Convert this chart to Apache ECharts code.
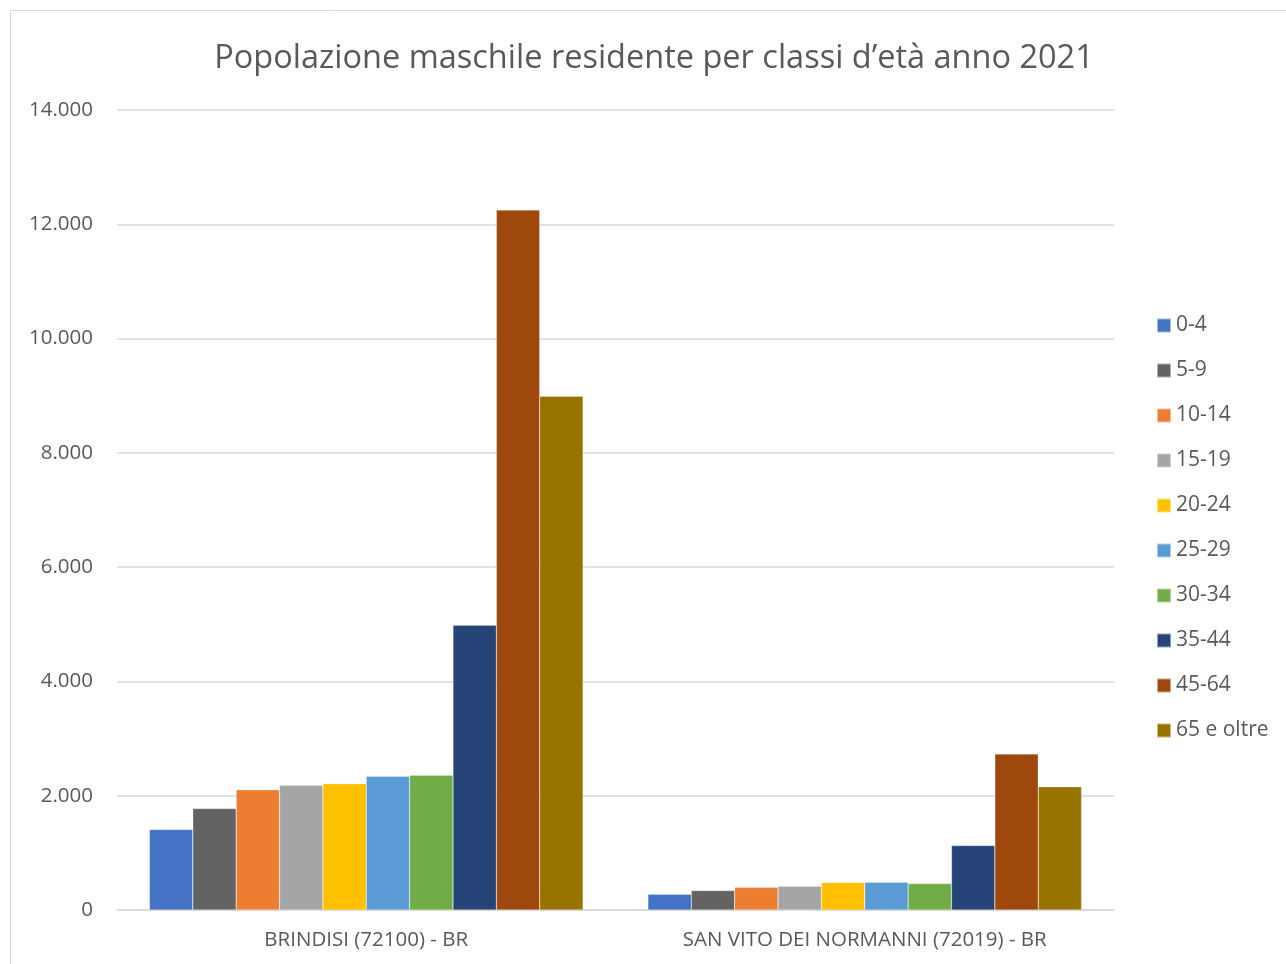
<!DOCTYPE html>
<html><head><meta charset="utf-8">
<script src="https://cdn.jsdelivr.net/npm/echarts@6/dist/echarts.min.js"></script>
<style>html,body{margin:0;padding:0;background:#fff}#c{width:1286px;height:964px}</style>
</head><body><div id="c"></div>
<script>
const categories = ['BRINDISI (72100) - BR', 'SAN VITO DEI NORMANNI (72019) - BR'];
const ageClasses = ['0-4','5-9','10-14','15-19','20-24','25-29','30-34','35-44','45-64','65 e oltre'];
const brindisi = [1410, 1775, 2105, 2185, 2210, 2340, 2360, 4985, 12250, 8990];
const sanVito = [275, 340, 397, 414, 480, 485, 462, 1128, 2730, 2158];
const colors = ['#4472C4','#636363','#ED7D31','#A5A5A5','#FFC000','#5B9BD5','#70AD47','#264478','#9E480E','#997300'];
const yTicks = { min: 0, max: 14000, interval: 2000 };

const font = 'Open Sans, sans-serif';
const chart = echarts.init(document.getElementById('c'));
const series = ageClasses.map((name, i) => ({
  name, type: 'bar', data: [brindisi[i], sanVito[i]],
  barGap: '0%', barCategoryGap: '13%',
  itemStyle: { color: colors[i], borderColor: 'rgba(255,255,255,0.5)', borderWidth: 0.5 }
}));
chart.setOption({
  animation: false,
  graphic: [{ type: 'rect', shape: { x: 10.5, y: 10.5, width: 1290, height: 1000 }, style: { fill: 'none', stroke: '#d9d9d9', lineWidth: 1 } }],
  title: { text: 'Popolazione maschile residente per classi d\u2019età anno 2021', left: 649, textAlign: 'center', top: 37,
    textStyle: { fontFamily: font, fontWeight: 'normal', fontSize: 32.5, color: '#595959' } },
  legend: { orient: 'vertical', left: 1156, top: 315, padding: 0, itemWidth: 14, itemHeight: 14, itemGap: 24,
    icon: 'rect', textStyle: { fontFamily: font, fontSize: 21, color: '#595959' } },
  grid: { left: 117, right: 172, top: 110, bottom: 54 },
  xAxis: { type: 'category', data: categories,
    axisLine: { lineStyle: { color: '#d9d9d9', width: 1.5 } }, axisTick: { show: false },
    axisLabel: { fontFamily: font, fontSize: 20.5, color: '#595959', margin: 20 } },
  yAxis: { type: 'value', min: yTicks.min, max: yTicks.max, interval: yTicks.interval,
    axisLine: { show: false }, axisTick: { show: false },
    splitLine: { lineStyle: { color: '#d9d9d9', width: 1.5 } },
    axisLabel: { fontFamily: font, fontSize: 20.5, color: '#595959', margin: 24,
      formatter: v => v === 0 ? '0' : v.toLocaleString('en-US').replace(/,/g, '.') } },
  series
});
</script></body></html>
